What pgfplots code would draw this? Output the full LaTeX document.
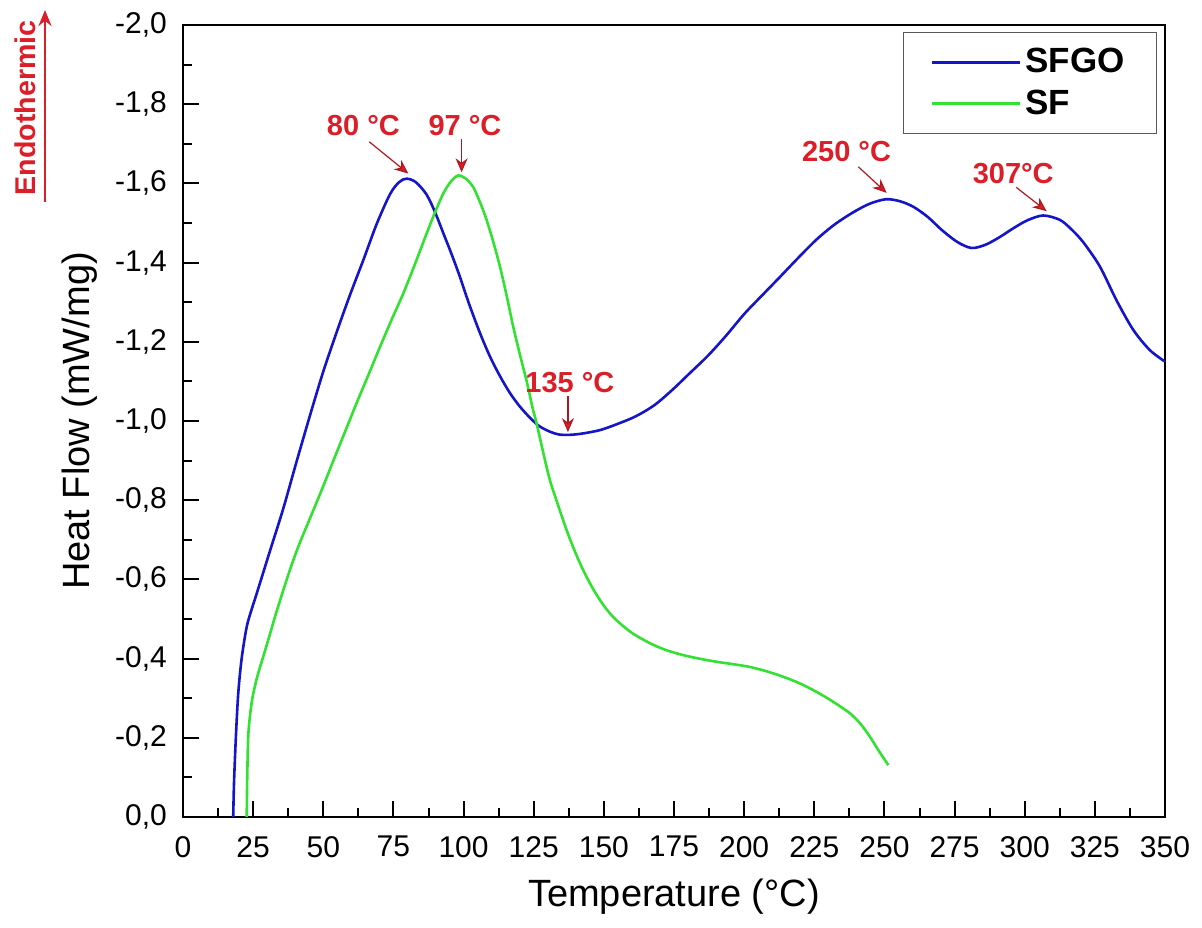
\documentclass[border=0pt]{standalone}
\usepackage{pgfplots}
\pgfplotsset{compat=1.18}
\usepackage{fontspec}
\setmainfont{Liberation Sans}
\usetikzlibrary{arrows.meta}

\definecolor{sfgo}{RGB}{20,20,200}
\definecolor{sf}{RGB}{50,225,50}
\definecolor{annred}{RGB}{220,30,40}

\begin{document}
\begin{tikzpicture}
\begin{axis}[
  name=ax,
  scale only axis,
  width=491pt, height=396pt,
  xmin=0, xmax=350,
  ymin=-2, ymax=0,
  y dir=reverse,
  xtick={0,25,...,350},
  ytick={-2,-1.8,-1.6,-1.4,-1.2,-1,-0.8,-0.6,-0.4,-0.2,0},
  minor x tick num=1,
  minor y tick num=1,
  xtick pos=bottom, ytick pos=left,
  tick align=inside,
  major tick length=8pt, minor tick length=4.5pt,
  every tick/.style={black, line width=1pt},
  axis line style={line width=1pt},
  /pgf/number format/assume math mode=true,
  yticklabel style={/pgf/number format/.cd, fixed, fixed zerofill, precision=1, use comma, /tikz/.cd, xshift=-4.5pt},
  xticklabel style={/pgf/number format/.cd, fixed, precision=0, /tikz/.cd, yshift=-6pt},
  tick label style={font=\fontsize{15}{18}\selectfont},
  xlabel={Temperature (°C)},
  ylabel={Heat Flow (mW/mg)},
  label style={font=\fontsize{19}{22}\selectfont},
  xlabel style={yshift=-4pt},
  ylabel style={yshift=2pt},
  legend style={at={(0.992,0.991)}, anchor=north east, draw=black!65,
    font=\bfseries\fontsize{17.5}{20}\selectfont, row sep=3pt,
    inner xsep=14pt, inner ysep=6pt, cells={anchor=west}},
  legend image code/.code={\draw[#1] (0pt,0pt) -- (44pt,0pt);},
]
\addplot[sfgo, line width=1.3pt, smooth] table {
17.9 0.0
18.2 -0.09
18.9 -0.21
19.7 -0.313
20.9 -0.40
22.7 -0.48
24.5 -0.525
26.3 -0.565
31.0 -0.672
35.7 -0.778
40.5 -0.898
45.3 -1.015
50.0 -1.125
54.8 -1.225
59.5 -1.318
64.3 -1.407
69.0 -1.497
73.8 -1.573
77.0 -1.603
79.7 -1.612
83.0 -1.603
86.8 -1.572
89.8 -1.528
92.8 -1.474
95.8 -1.42
98.7 -1.364
102.0 -1.295
105.8 -1.223
109.4 -1.163
113.0 -1.113
116.5 -1.071
120.0 -1.037
123.7 -1.008
127.0 -0.987
130.8 -0.973
134.0 -0.966
137.5 -0.965
142.0 -0.968
148.6 -0.977
155.0 -0.993
161.4 -1.012
168.0 -1.04
174.3 -1.078
180.5 -1.12
187.1 -1.165
193.5 -1.215
200.0 -1.27
206.5 -1.318
212.8 -1.364
219.0 -1.41
225.6 -1.457
232.0 -1.495
238.4 -1.525
244.5 -1.548
250.5 -1.56
255.5 -1.555
260.3 -1.541
265.5 -1.515
270.5 -1.482
276.0 -1.452
281.0 -1.437
286.0 -1.445
291.2 -1.465
296.0 -1.487
301.0 -1.507
306.6 -1.519
312.5 -1.508
316.5 -1.485
320.8 -1.452
326.8 -1.39
332.7 -1.305
338.7 -1.23
344.6 -1.179
350.0 -1.15
};
\addlegendentry{SFGO}
\addplot[sf, line width=1.3pt, smooth] table {
22.7 0.0
22.9 -0.10
23.3 -0.21
24.5 -0.29
26.3 -0.35
28.6 -0.405
31.0 -0.462
33.4 -0.52
38.1 -0.624
41.5 -0.69
45.3 -0.755
49.5 -0.827
53.6 -0.90
57.7 -0.972
61.8 -1.044
66.0 -1.115
70.2 -1.187
74.3 -1.255
78.5 -1.322
82.6 -1.395
86.8 -1.473
90.0 -1.53
92.8 -1.575
95.5 -1.605
98.1 -1.62
100.8 -1.612
103.5 -1.59
106.0 -1.55
108.2 -1.508
110.6 -1.452
113.0 -1.389
115.4 -1.315
117.7 -1.238
120.0 -1.17
122.5 -1.10
124.7 -1.03
126.0 -0.995
128.4 -0.92
130.8 -0.85
133.8 -0.785
136.7 -0.725
139.6 -0.672
142.6 -0.624
145.6 -0.583
148.6 -0.548
151.5 -0.52
154.5 -0.497
160.0 -0.465
166.4 -0.439
172.0 -0.422
178.2 -0.409
184.0 -0.40
190.2 -0.392
196.0 -0.386
202.0 -0.379
208.0 -0.368
214.0 -0.354
220.0 -0.337
225.8 -0.316
231.5 -0.292
237.7 -0.262
241.5 -0.235
244.8 -0.203
248.0 -0.167
251.4 -0.131
};
\addlegendentry{SF}

% peak annotations
\tikzset{ann/.style={text=annred, font=\bfseries\fontsize{14.5}{17}\selectfont, inner sep=0pt},
         annarr/.style={draw=annred!80!black, line width=0.6pt, -{Stealth[length=7pt,width=6pt,fill=annred]}}}
\node[ann] at (axis cs:64.3,-1.747) {80 °C};
\draw[annarr] (axis cs:66.4,-1.705) -- (axis cs:80.3,-1.625);
\node[ann] at (axis cs:100.5,-1.745) {97 °C};
\draw[annarr] (axis cs:99.3,-1.712) -- (axis cs:99.3,-1.628);
\node[ann] at (axis cs:137.9,-1.098) {135 °C};
\draw[annarr] (axis cs:137.2,-1.062) -- (axis cs:137.2,-0.972);
\node[ann] at (axis cs:236.5,-1.68) {250 °C};
\draw[annarr] (axis cs:240.7,-1.642) -- (axis cs:250.8,-1.576);
\node[ann] at (axis cs:295.9,-1.625) {307°C};
\draw[annarr] (axis cs:297,-1.59) -- (axis cs:307.8,-1.53);
\end{axis}

% endothermic marker, outside the axis
\node[rotate=90, text=annred, font=\bfseries\fontsize{14.3}{17}\selectfont, inner sep=0pt]
  at ([xshift=-79pt,yshift=-41.5pt]ax.north west) {Endothermic};
\draw[annred, line width=1.4pt, -{Stealth[length=8pt,width=6.5pt]}]
  ([xshift=-69pt,yshift=-88.5pt]ax.north west) -- ([xshift=-69pt,yshift=7.5pt]ax.north west);

\pgfresetboundingbox
\path[use as bounding box] ([xshift=-91.5pt,yshift=-55pt]ax.south west) rectangle ([xshift=18.5pt,yshift=12.5pt]ax.north east);
\end{tikzpicture}
\end{document}
